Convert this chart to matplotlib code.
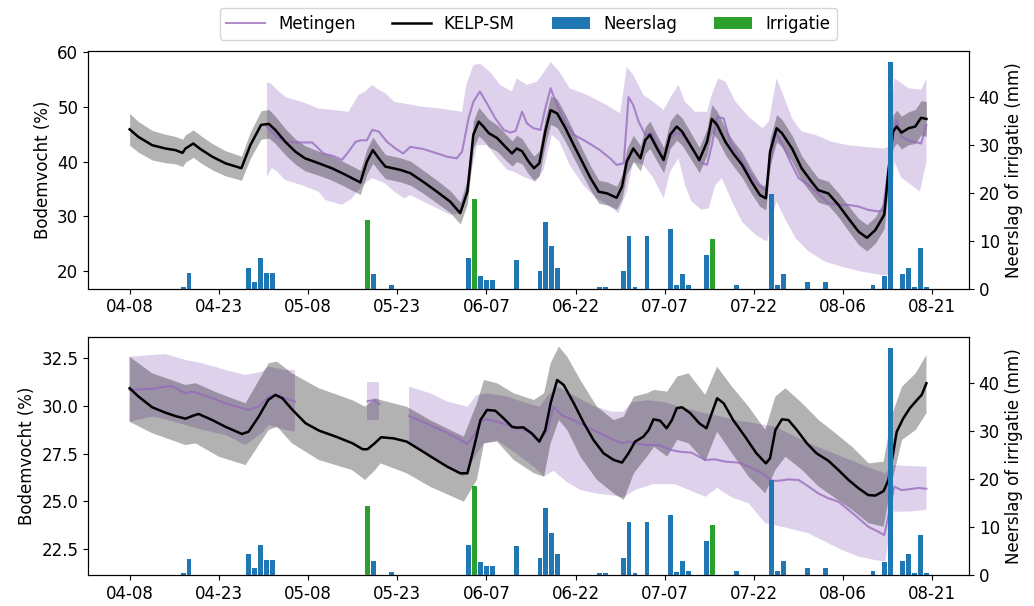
import numpy as np
import matplotlib
matplotlib.use("Agg")
import matplotlib.pyplot as plt
import matplotlib.dates as mdates

start = mdates.date2num(np.datetime64("2020-04-08"))
tick_days = [0, 15, 30, 45, 60, 75, 90, 105, 120, 135]

# neerslag en irrigatie (dag na 04-08, mm)
rain_day = [9, 10, 20, 21, 22, 23, 24, 41, 44, 57, 59, 60, 61, 65, 69, 70, 71, 72, 79, 80, 83, 84, 85, 87,
            91, 92, 93, 94, 97, 102, 108, 109, 110, 114, 117, 125, 127, 128, 130, 131, 132, 133, 134]
rain_mm = [0.4, 3.3, 4.4, 1.5, 6.3, 3.2, 3.2, 3.0, 0.7, 6.3, 2.6, 1.9, 1.9, 6.0, 3.6, 14.0, 8.8, 4.4, 0.4, 0.4,
           3.6, 11.0, 0.4, 11.0, 12.5, 0.7, 3.0, 0.8, 7.0, 0.8, 19.7, 0.8, 3.0, 1.5, 1.5, 0.8, 2.6, 47.3,
           3.0, 4.4, 0.4, 8.4, 0.4]
irr_day = [40, 58, 98]
irr_mm = [14.3, 18.6, 10.3]

# bovenste sensor: KELP-SM
top_kelp_day = [0, 1.5, 3.8, 6, 7.7, 8.9, 9.4, 10.7, 11.9, 13.9, 16.1, 18.8, 20.3, 22.1, 23.4, 24.5, 26.2, 27.9,
                29.5, 31.8, 34, 36.3, 38.8, 39.9, 40.9, 41.9, 43, 45.5, 47.2, 49.4, 51.7, 53.9, 55.6, 56.8, 57.8,
                58.7, 59.5, 60.4, 61.8, 63.2, 64.3, 65.1, 66, 67.1, 68, 68.9, 69.9, 70.8, 71.9, 73.3, 74.7, 76.1,
                77.5, 78.9, 80.3, 81.9, 82.8, 83.6, 84.7, 85.9, 86.7, 87.5, 88.7, 89.8, 90.9, 92, 92.9, 94.3,
                95.8, 97.1, 97.9, 98.8, 100.2, 101.5, 103, 104.6, 106, 107, 107.7, 108.8, 109.7, 111.4, 113,
                114.7, 115.8, 117.5, 119.2, 120.9, 122.6, 124, 125.4, 126.9, 127.6, 128.4, 129, 129.8, 131,
                132.1, 133.1, 134]
top_kelp = [45.9, 44.5, 43.0, 42.4, 42.1, 41.6, 42.4, 43.3, 42.3, 40.9, 39.7, 38.8, 43.0, 46.7, 46.9, 45.8, 43.6,
            41.8, 40.6, 39.7, 38.8, 37.6, 36.2, 40.0, 42.1, 40.6, 39.1, 38.5, 37.9, 36.3, 34.5, 32.7, 30.6, 34.5,
            44.9, 47.3, 46.4, 45.2, 44.3, 42.7, 41.5, 42.4, 41.9, 40.0, 38.8, 39.7, 45.5, 49.4, 48.8, 46.1, 43.0,
            40.0, 37.0, 34.5, 34.2, 33.4, 35.4, 40.0, 42.4, 40.6, 43.9, 44.9, 42.4, 40.3, 44.9, 46.4, 45.5, 43.0,
            40.3, 43.6, 47.8, 46.7, 43.6, 41.5, 39.4, 36.3, 33.9, 33.3, 41.8, 46.1, 45.2, 42.4, 38.8, 36.3, 34.8,
            34.2, 32.1, 29.6, 27.2, 26.1, 27.5, 30.3, 38.2, 45.5, 46.4, 45.3, 46.1, 46.4, 48.0, 47.8]
top_kelp_sd = [2.9, 2.8, 2.7, 2.6, 2.5, 2.5, 2.5, 2.5, 2.5, 2.4, 2.3, 2.2, 2.4, 2.6, 2.6, 2.5, 2.4, 2.3, 2.3, 2.2,
               2.2, 2.2, 2.2, 2.3, 2.4, 2.3, 2.2, 2.2, 2.2, 2.1, 2.1, 2.0, 2.0, 2.2, 2.5, 2.6, 2.5, 2.5, 2.4, 2.4,
               2.3, 2.4, 2.3, 2.3, 2.2, 2.3, 2.5, 2.6, 2.6, 2.5, 2.4, 2.3, 2.2, 2.1, 2.1, 2.1, 2.2, 2.3, 2.4, 2.3,
               2.4, 2.5, 2.4, 2.3, 2.5, 2.5, 2.5, 2.4, 2.3, 2.4, 2.6, 2.5, 2.4, 2.3, 2.3, 2.2, 2.1, 2.1, 2.4, 2.5,
               2.5, 2.4, 2.3, 2.2, 2.2, 2.2, 2.2, 2.3, 2.4, 2.4, 2.4, 2.5, 2.8, 3.0, 3.0, 3.0, 3.0, 3.1, 3.1, 3.2]

# bovenste sensor: metingen
top_meas_day = [23.1, 24.8, 26.2, 28.4, 30.7, 31.2, 32.6, 34.3, 35.7, 36.8, 38.0, 38.8, 39.9, 40.8, 41.9, 43.3,
                44.7, 46.0, 47.2, 49.4, 51.7, 53.4, 55.0, 55.9, 57.0, 57.8, 58.9, 60.1, 61.5, 62.9, 64.0, 64.9,
                66.0, 66.8, 67.9, 69.1, 69.9, 70.8, 71.9, 73.3, 74.7, 76.9, 79.1, 80.8, 81.9, 83.1, 83.9, 84.7,
                85.6, 86.7, 87.8, 88.7, 89.8, 90.9, 92.0, 92.9, 94.3, 95.8, 97.1, 97.9, 98.8, 99.9, 101.0, 102.4,
                104.1, 105.7, 107.0, 107.7, 108.6, 109.7, 111.1, 112.5, 114.2, 115.8, 117.5, 119.2, 120.9, 122.6,
                124.2, 125.9, 126.7, 127.6, 128.4, 129.0, 129.8, 131.0, 132.1, 133.1, 134.0]
top_meas = [46.4, 44.5, 43.6, 43.5, 43.5, 43.0, 41.5, 41.0, 40.3, 41.8, 43.6, 43.9, 43.9, 45.8, 45.5, 43.6, 42.4,
            41.5, 42.7, 42.3, 41.5, 40.9, 40.6, 41.8, 47.9, 50.9, 52.8, 50.6, 47.9, 45.8, 45.3, 45.6, 49.1, 47.0,
            46.1, 45.8, 49.7, 53.4, 50.3, 47.0, 44.9, 43.6, 42.1, 40.6, 39.4, 39.7, 51.8, 50.3, 47.3, 44.9, 45.2,
            43.0, 40.6, 44.3, 45.3, 44.9, 43.0, 40.0, 39.4, 43.0, 48.2, 47.9, 43.6, 41.2, 38.2, 35.7, 34.8, 39.4,
            45.5, 43.3, 40.0, 37.0, 35.7, 34.2, 32.4, 32.1, 32.1, 31.8, 31.2, 30.9, 31.2, 38.8, 45.5, 47.6, 44.5,
            43.9, 43.6, 43.3, 46.7]
top_meas_hi_day = [23.1, 23.7, 24.8, 26.2, 29.0, 31.8, 34.6, 36.8, 38.5, 39.6, 40.8, 41.9, 43.0, 44.5, 46.8, 49.4,
                   52.2, 55.9, 56.6, 57.8, 58.9, 60.6, 62.3, 64.3, 65.1, 66.8, 68.5, 69.9, 70.8, 72.3, 74.0, 76.9,
                   80.3, 82.5, 83.6, 84.7, 86.4, 88.1, 89.8, 91.2, 92.3, 93.4, 95.1, 97.1, 97.9, 99.0, 100.2, 101.9,
                   104.1, 106.4, 107.5, 108.8, 109.7, 111.4, 113.0, 115.3, 118.1, 120.9, 123.7, 126.7, 127.6,
                   128.6, 131.0, 133.1, 134.0]
top_meas_hi = [54.5, 54.3, 53.1, 51.8, 50.9, 49.7, 49.4, 49.1, 52.2, 52.8, 54.0, 53.1, 52.5, 50.9, 50.5, 50.0, 49.7,
               49.1, 54.0, 57.6, 57.9, 56.4, 54.0, 52.8, 55.2, 54.0, 54.6, 56.7, 58.2, 56.4, 53.4, 52.2, 50.3, 48.8,
               57.3, 55.8, 52.2, 50.9, 49.4, 52.2, 54.0, 50.9, 49.1, 49.1, 52.2, 55.2, 54.6, 50.9, 48.2, 46.1, 47.3,
               55.2, 52.8, 47.9, 45.5, 44.9, 43.6, 43.0, 42.7, 42.4, 42.7, 55.2, 53.4, 53.1, 55.2]
top_meas_lo_day = [23.1, 23.9, 24.8, 26.2, 29.0, 31.8, 32.9, 35.7, 37.4, 39.1, 40.8, 43.0, 44.5, 46.2, 47.2, 49.4,
                   51.7, 53.9, 55.9, 57.0, 58.4, 60.1, 61.8, 63.5, 64.6, 66.3, 68.3, 69.6, 71.0, 72.3, 74.0, 76.3,
                   78.5, 80.8, 82.2, 83.6, 84.7, 86.4, 88.1, 89.8, 90.9, 92.3, 93.4, 94.5, 96.2, 97.4, 98.5, 99.6,
                   101.3, 103.0, 105.3, 107.2, 108.0, 108.8, 110.2, 112.0, 114.2, 117.0, 119.8, 123.1, 126.5,
                   127.6, 128.6, 129.8, 131.5, 132.9, 134.0]
top_meas_lo = [37.2, 38.8, 38.2, 36.6, 35.7, 34.5, 33.0, 32.1, 33.3, 35.7, 37.0, 36.0, 34.5, 33.3, 33.9, 32.7, 31.5,
               30.3, 30.6, 35.7, 43.0, 43.0, 40.6, 38.5, 38.2, 37.2, 36.3, 38.5, 44.9, 43.6, 39.4, 35.7, 33.3, 31.8,
               30.6, 34.5, 40.0, 39.4, 37.0, 33.3, 38.2, 40.6, 35.7, 32.7, 31.2, 31.5, 35.7, 37.0, 32.7, 29.0, 26.6,
               25.4, 29.6, 32.7, 29.6, 26.0, 23.6, 21.7, 20.8, 19.9, 19.3, 19.3, 40.0, 37.0, 35.7, 34.5, 40.0]

# onderste sensor: KELP-SM
bot_kelp_day = [0, 1.5, 3.8, 6, 7.7, 9.4, 10.5, 11.6, 13.9, 16.1, 18.9, 20.0, 21.7, 23.3, 24.5, 25.7, 27.4, 29.6,
                31.9, 34.7, 37.5, 39.2, 40.0, 41.2, 42.3, 44.4, 46.6, 48.9, 51.1, 53.4, 55.6, 56.8, 57.8, 59.0,
                60.1, 61.5, 62.9, 64.3, 65.1, 66.2, 67.6, 68.9, 69.9, 70.8, 71.9, 73.0, 74.7, 76.4, 78.0, 79.7,
                81.4, 82.8, 83.9, 85.0, 86.4, 87.3, 88.1, 89.2, 90.3, 91.2, 92.0, 92.9, 94.3, 95.8, 97.0, 97.9,
                98.8, 99.9, 101.5, 103.5, 105.4, 107.0, 107.7, 108.6, 109.7, 110.8, 112.2, 113.9, 115.5, 117.5,
                119.2, 120.9, 122.6, 124.2, 125.4, 126.8, 127.6, 128.4, 129.0, 130.1, 131.2, 132.4, 133.2, 134.0]
bot_kelp = [30.93, 30.49, 29.93, 29.65, 29.47, 29.33, 29.47, 29.58, 29.26, 28.91, 28.53, 28.65, 29.44, 30.31,
            30.58, 30.40, 29.79, 29.09, 28.70, 28.39, 28.04, 27.73, 27.73, 28.04, 28.36, 28.30, 28.13, 27.69,
            27.26, 26.82, 26.47, 26.47, 27.69, 29.26, 29.79, 29.75, 29.35, 28.91, 28.86, 28.88, 28.57, 28.13,
            28.74, 30.14, 31.36, 31.10, 30.14, 29.09, 28.22, 27.52, 27.17, 27.03, 27.52, 28.13, 28.39, 28.74,
            29.30, 29.23, 28.83, 29.26, 29.88, 29.93, 29.62, 29.09, 28.83, 29.62, 30.40, 30.14, 29.26, 28.39,
            27.52, 26.99, 27.26, 28.74, 29.30, 29.26, 28.74, 28.04, 27.52, 27.13, 26.64, 26.12, 25.68, 25.33,
            25.30, 25.54, 26.12, 27.52, 28.65, 29.35, 29.88, 30.31, 30.58, 31.19]
bot_kelp_band_day = [0, 3.8, 9.4, 11.1, 15.0, 19.5, 23.4, 24.8, 27.3, 31.8, 37.4, 39.6, 41.3, 42.2, 46.6, 50.5,
                     56.2, 58.4, 59.6, 61.8, 64.6, 68.0, 69.7, 70.8, 72.2, 73.6, 75.8, 78.6, 81.4, 83.1, 84.8,
                     87.0, 88.2, 90.4, 92.1, 94.0, 96.8, 98.8, 101.3, 104.1, 106.9, 108.6, 110.3, 113.1, 115.9,
                     118.7, 121.5, 124.3, 126.8, 128.3, 129.9, 132.2, 134.0]
bot_kelp_hi = [32.58, 31.71, 31.10, 31.19, 30.66, 30.14, 32.24, 32.32, 31.71, 30.93, 30.31, 29.96, 30.40, 30.31,
               29.96, 29.26, 28.39, 30.14, 31.36, 31.19, 30.66, 30.31, 30.66, 32.24, 33.11, 32.58, 31.36, 29.96,
               29.26, 29.44, 30.49, 30.66, 30.84, 30.75, 31.54, 31.71, 30.58, 32.06, 31.01, 29.96, 28.74, 30.49,
               30.93, 30.14, 29.26, 28.57, 27.86, 26.99, 27.08, 29.62, 31.01, 31.71, 32.67]
bot_kelp_lo = [29.17, 28.57, 27.95, 28.04, 27.34, 26.90, 28.74, 28.91, 28.04, 27.17, 26.64, 26.12, 26.64, 26.99,
               26.47, 25.77, 24.98, 26.12, 28.04, 28.13, 27.17, 26.47, 26.29, 28.04, 29.26, 28.74, 27.34, 26.12,
               25.42, 25.07, 26.47, 27.34, 27.86, 27.34, 28.22, 28.04, 27.08, 28.65, 27.52, 26.29, 25.42, 26.64,
               27.34, 26.64, 25.77, 25.16, 24.55, 23.85, 23.67, 26.12, 28.22, 28.74, 29.62]

# onderste sensor: metingen, drie stukken met gaten ertussen
bot_meas1_day = [0, 3.8, 6.0, 7.1, 8.3, 9.4, 10.5, 11.6, 13.9, 16.1, 18.4, 20.0, 21.7, 23.4, 24.8, 26.2, 27.8]
bot_meas1 = [30.84, 30.90, 31.01, 31.04, 30.84, 30.66, 30.75, 30.66, 30.40, 30.14, 29.93, 29.79, 29.96, 30.49,
             30.58, 30.40, 30.23]
bot_meas1_band_day = [0, 3.8, 6.0, 9.4, 12.2, 16.1, 19.5, 22.3, 23.4, 26.2, 27.8]
bot_meas1_hi = [32.58, 32.67, 32.72, 32.41, 32.24, 31.89, 31.62, 31.80, 32.06, 31.89, 31.89]
bot_meas1_lo = [29.17, 29.44, 29.30, 29.00, 28.75, 28.48, 27.95, 28.60, 29.00, 28.74, 28.65]
bot_meas2_day = [40, 41, 42]
bot_meas2 = [30.24, 30.31, 30.10]
bot_meas2_hi = [31.27, 31.27, 31.27]
bot_meas2_lo = [29.26, 29.26, 29.26]
bot_meas3_day = [47, 48.9, 51.1, 53.4, 55.6, 56.8, 57.8, 59.0, 60.1, 61.8, 63.5, 64.6, 65.7, 67.4, 68.9, 70.2,
                 71.3, 72.6, 74.6, 76.8, 79.1, 81.4, 82.8, 83.9, 85.3, 87.0, 89.2, 91.0, 92.6, 94.5, 96.8, 98.5,
                 100.2, 102.4, 104.1, 106.4, 108.0, 109.2, 110.8, 112.5, 114.2, 115.8, 117.5, 119.2, 120.9, 122.6,
                 124.2, 125.9, 126.9, 127.8, 128.6, 129.8, 131.0, 132.6, 134.0]
bot_meas3 = [29.47, 29.23, 28.91, 28.60, 28.22, 28.01, 28.39, 29.17, 29.30, 29.17, 29.00, 28.83, 28.83, 28.57,
             28.22, 28.65, 29.96, 29.53, 29.26, 28.91, 28.57, 28.22, 28.04, 28.13, 28.04, 27.95, 27.95, 27.69,
             27.60, 27.55, 27.17, 27.20, 27.08, 27.03, 26.82, 26.47, 26.08, 26.08, 26.15, 26.12, 25.77, 25.42,
             25.16, 24.98, 24.55, 24.11, 23.67, 23.41, 23.23, 24.55, 25.77, 25.59, 25.63, 25.70, 25.66]
bot_meas3_hi_day = [47, 50.6, 53.4, 56.8, 58.4, 60.1, 63.5, 66.8, 69.0, 70.2, 72.0, 75.0, 78.0, 81.0, 83.0, 84.5,
                    87.0, 90.0, 92.0, 96.8, 99.5, 101.9, 108.6, 114.2, 119.8, 125.4, 127.1, 128.3, 134.0]
bot_meas3_hi = [31.01, 30.66, 30.23, 29.96, 30.58, 30.66, 30.49, 30.14, 29.96, 30.49, 31.0, 30.5, 30.0, 29.7,
                29.7, 30.2, 30.3, 30.2, 30.0, 29.62, 29.44, 29.26, 28.91, 28.04, 27.34, 26.64, 26.47, 26.9, 26.81]
bot_meas3_lo_day = [47, 52.0, 56.2, 58.4, 59.6, 61.8, 64.6, 68.0, 69.7, 71.3, 73.6, 75.8, 78.6, 81.4, 83.1, 85.0,
                    88.0, 91.7, 96.8, 98.8, 101.3, 104.1, 106.9, 109.7, 114.2, 117.0, 119.8, 122.6, 125.4, 127.1,
                    128.3, 131.0, 134.0]
bot_meas3_lo = [28.04, 27.0, 26.29, 27.5, 28.04, 28.2, 27.6, 26.8, 26.3, 26.6, 26.0, 25.6, 25.4, 25.3, 25.2, 25.6,
                25.9, 25.9, 25.24, 25.7, 25.2, 24.90, 23.85, 23.67, 23.32, 22.88, 22.45, 22.10, 21.92, 21.84,
                24.46, 24.46, 24.55]


def dd(d):
    return start + np.asarray(d, dtype=float)


def band(ax, hi_d, hi, lo_d, lo, color):
    x = np.r_[dd(hi_d), dd(lo_d)[::-1]]
    y = np.r_[hi, lo[::-1]]
    ax.fill(x, y, color=color, alpha=0.3, lw=0)


plt.rcParams["font.size"] = 12
fig = plt.figure(figsize=(10.34, 6.06), dpi=100)
ax1 = fig.add_axes([0.0851, 0.5236, 0.8520, 0.3927])
ax2 = fig.add_axes([0.0851, 0.0512, 0.8520, 0.3932])

# boven
band(ax1, top_meas_hi_day, top_meas_hi, top_meas_lo_day, top_meas_lo, "tab:purple")
k = np.array(top_kelp)
s = np.array(top_kelp_sd)
ax1.fill_between(dd(top_kelp_day), k - s, k + s, color="k", alpha=0.3, lw=0)
l_meas, = ax1.plot(dd(top_meas_day), top_meas, color="tab:purple", alpha=0.75, lw=1.5, label="Metingen")
l_kelp, = ax1.plot(dd(top_kelp_day), top_kelp, color="k", lw=1.8, label="KELP-SM")
ax1.set_ylim(16.8, 60.25)
ax1.set_yticks([20, 30, 40, 50, 60])

# onder
band(ax2, bot_meas1_band_day, bot_meas1_hi, bot_meas1_band_day, bot_meas1_lo, "tab:purple")
band(ax2, bot_meas2_day, bot_meas2_hi, bot_meas2_day, bot_meas2_lo, "tab:purple")
band(ax2, bot_meas3_hi_day, bot_meas3_hi, bot_meas3_lo_day, bot_meas3_lo, "tab:purple")
band(ax2, bot_kelp_band_day, bot_kelp_hi, bot_kelp_band_day, bot_kelp_lo, "k")
for d, v in [(bot_meas1_day, bot_meas1), (bot_meas2_day, bot_meas2), (bot_meas3_day, bot_meas3)]:
    ax2.plot(dd(d), v, color="tab:purple", alpha=0.75, lw=1.5)
ax2.plot(dd(bot_kelp_day), bot_kelp, color="k", lw=1.8)
ax2.set_ylim(21.14, 33.63)
ax2.set_yticks([22.5, 25.0, 27.5, 30.0, 32.5])

for ax in [ax1, ax2]:
    ax.set_ylabel("Bodemvocht (%)")
    ax.set_xlim(start - 7.0, start + 141.15)
    ax.set_xticks(dd(tick_days))
    ax.xaxis.set_major_formatter(mdates.DateFormatter("%m-%d"))
    axr = ax.twinx()
    b_rain = axr.bar(dd(rain_day), rain_mm, width=0.8, color="tab:blue", label="Neerslag")
    b_irr = axr.bar(dd(irr_day), irr_mm, width=0.8, color="tab:green", label="Irrigatie")
    axr.set_ylim(0, 49.6)
    axr.set_yticks([0, 10, 20, 30, 40])
    axr.set_ylabel("Neerslag of irrigatie (mm)")

fig.legend([l_meas, l_kelp, b_rain, b_irr], ["Metingen", "KELP-SM", "Neerslag", "Irrigatie"],
           loc="upper center", bbox_to_anchor=(0.511, 1.0), ncol=4, handlelength=2.3, columnspacing=2.2)
fig.savefig("out.png", dpi=100)
